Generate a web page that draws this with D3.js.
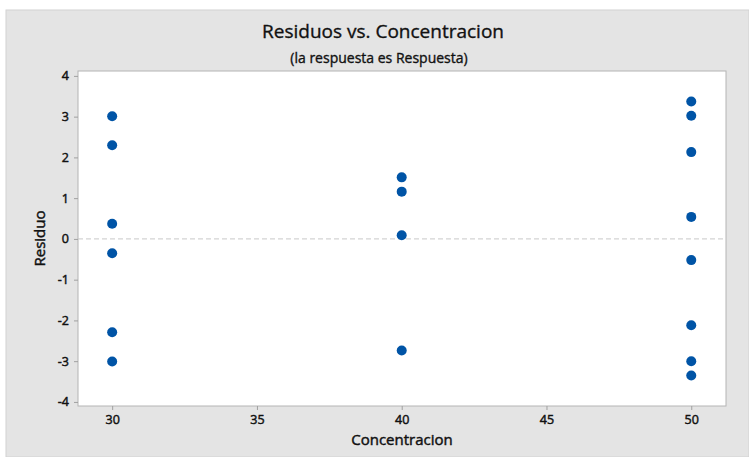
<!DOCTYPE html>
<html><head><meta charset="utf-8">
<script src="https://cdn.jsdelivr.net/npm/d3@7"></script>
<style>
html,body{margin:0;padding:0;background:#fff;}
text{font-family:"Open Sans","Noto Sans",sans-serif;}
</style></head>
<body>
<svg id="c" width="749" height="457"></svg>
<script>
const concentracion = [30,30,30,30,30,30, 40,40,40,40, 50,50,50,50,50,50,50,50];
const residuo = [3.01,2.30,0.37,-0.35,-2.29,-3.01, 1.51,1.16,0.09,-2.74, 3.37,3.02,2.13,0.54,-0.52,-2.12,-3.00,-3.35];
const xTicks = [30,35,40,45,50];
const yTicks = [-4,-3,-2,-1,0,1,2,3,4];
const title = "Residuos vs. Concentracion";
const subtitle = "(la respuesta es Respuesta)";
const xLabel = "Concentracion";
const yLabel = "Residuo";

const svg = d3.select("#c");
svg.append("rect").attr("x",6).attr("y",10).attr("width",743).attr("height",447)
  .attr("fill","#e4e4e4").attr("stroke","#d2d2d2").attr("stroke-width",1);

const L=78, R=726, T=71, B=406;
const x = d3.scaleLinear().domain([28.82,51.2]).range([L,R]);
const y = d3.scaleLinear().domain([-4.1,4.12]).range([B,T]);

svg.append("rect").attr("x",L).attr("y",T).attr("width",R-L).attr("height",B-T)
  .attr("fill","#fff").attr("stroke","#b4b4b4").attr("stroke-width",1);

function embolden(sel, w){ return sel.attr("stroke","#111").attr("stroke-width",w).attr("paint-order","stroke"); }
const fmt = d => String(d);

const xa = svg.append("g").attr("transform",`translate(0,${B})`)
  .call(d3.axisBottom(x).tickValues(xTicks).tickSize(4).tickPadding(5).tickFormat(fmt));
const ya = svg.append("g").attr("transform",`translate(${L},0)`)
  .call(d3.axisLeft(y).tickValues(yTicks).tickSize(4).tickPadding(5).tickFormat(fmt));
[xa,ya].forEach(a=>{
  a.select(".domain").remove();
  a.selectAll(".tick line").attr("stroke","#a0a0a0");
  const t = a.selectAll(".tick text").attr("fill","#111").style("font-size","12.5px").style("font-family","'Open Sans',sans-serif");
  embolden(t,0.45);
});

svg.append("line").attr("x1",L).attr("x2",R).attr("y1",y(0)).attr("y2",y(0))
  .attr("stroke","#c8c8c8").attr("stroke-width",1).attr("stroke-dasharray","5,3");

svg.append("g").selectAll("circle").data(residuo).join("circle")
  .attr("cx",(d,i)=>x(concentracion[i])).attr("cy",d=>y(d)).attr("r",5)
  .attr("fill","#0054a6");

embolden(svg.append("text").attr("x",383).attr("y",38).attr("text-anchor","middle")
  .style("font-size","19px").attr("fill","#111").text(title),0.35);
embolden(svg.append("text").attr("x",379).attr("y",63).attr("text-anchor","middle")
  .style("font-size","14px").attr("fill","#111").text(subtitle),0.35);
embolden(svg.append("text").attr("x",(L+R)/2).attr("y",445).attr("text-anchor","middle")
  .style("font-size","15px").attr("fill","#111").text(xLabel),0.45);
embolden(svg.append("text").attr("transform",`translate(45,${(T+B)/2}) rotate(-90)`).attr("text-anchor","middle")
  .style("font-size","15px").attr("fill","#111").text(yLabel),0.45);
</script>
</body></html>
